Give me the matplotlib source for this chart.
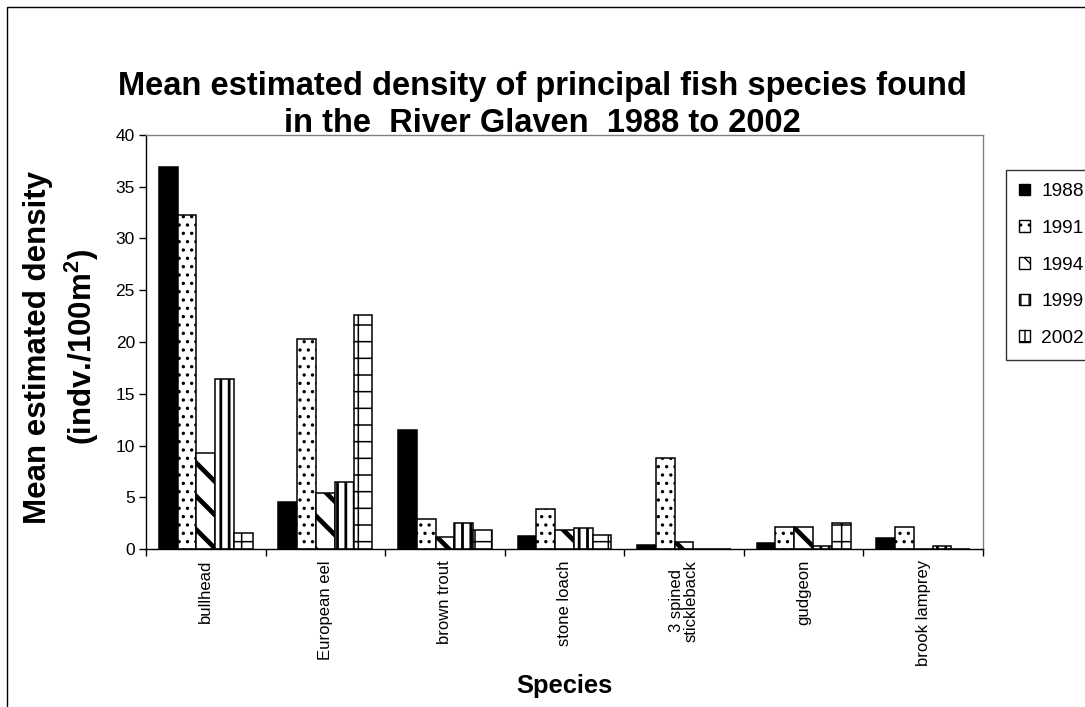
import matplotlib
matplotlib.use("Agg")
import matplotlib.pyplot as plt
from matplotlib.patches import Patch, Rectangle
import numpy as np

plt.rcParams['font.family'] = ['Liberation Sans', 'DejaVu Sans']

species = ["bullhead", "European eel", "brown trout", "stone loach",
           "3 spined\nstickleback", "gudgeon", "brook lamprey"]
years = ["1988", "1991", "1994", "1999", "2002"]

d1988 = [36.9, 4.5, 11.5, 1.3, 0.35, 0.6, 1.1]
d1991 = [32.3, 20.3, 2.9, 3.9, 8.8, 2.1, 2.1]
d1994 = [9.3, 5.4, 1.2, 1.8, 0.7, 2.1, 0.0]
d1999 = [16.4, 6.5, 2.5, 2.0, 0.0, 0.3, 0.3]
d2002 = [1.5, 22.6, 1.8, 1.4, 0.0, 2.5, 0.0]
series = [d1988, d1991, d1994, d1999, d2002]

title_lines = ["Mean estimated density of principal fish species found",
               "in the  River Glaven  1988 to 2002"]

# fill style of each year: face colour, hatch pattern, hatch line width
faces = ['black', 'white', 'white', 'white', 'white']
hatches = [None, '..', '\\', '||', '+']
hatch_lw = [1.0, 1.2, 3.4, 2.0, 1.1]

W, H = 1085, 707
fig = plt.figure(figsize=(W / 100, H / 100), dpi=100)
ax = fig.add_axes([146 / W, 1 - 549 / H, (983 - 146) / W, (549 - 135) / H])

x = np.arange(len(species))
bw = 0.157
handles = []
for i, (vals, fc, hp, hlw, yr) in enumerate(zip(series, faces, hatches, hatch_lw, years)):
    with plt.rc_context({'hatch.linewidth': hlw, 'hatch.color': 'black'}):
        bars = ax.bar(x + (i - 2) * bw, vals, width=bw, color=fc, edgecolor='black',
                      linewidth=1.1, hatch=hp, zorder=2)
        for b in bars:
            if hasattr(b, 'set_hatch_linewidth'):
                b.set_hatch_linewidth(hlw)
        h = Patch(facecolor=fc, edgecolor='black', hatch=hp, linewidth=1.0, label=yr)
        if hasattr(h, 'set_hatch_linewidth'):
            h.set_hatch_linewidth(hlw)
    handles.append(h)

ax.set_xlim(-0.5, len(species) - 0.5)
ax.set_ylim(0, 40)
ax.set_yticks(np.arange(0, 41, 5))
ax.tick_params(axis='y', direction='out', length=5, width=1, labelsize=12.5, pad=3)

ax.set_xticks(np.arange(-0.5, len(species), 1.0))
ax.set_xticklabels([])
ax.set_xticks(x, minor=True)
ax.set_xticklabels(species, minor=True, rotation=90, va='top', ha='center',
                   fontsize=12, linespacing=1.0)
ax.tick_params(axis='x', which='major', direction='out', length=5, width=1)
ax.tick_params(axis='x', which='minor', length=0, pad=8)

for side in ['left', 'bottom']:
    ax.spines[side].set_color('black')
    ax.spines[side].set_linewidth(1.0)
for side in ['top', 'right']:
    ax.spines[side].set_color('#808080')
    ax.spines[side].set_linewidth(1.0)

# two-line title, each line placed on its own baseline
for line, base in zip(title_lines, [95, 132]):
    fig.text(0.5, 1 - base / H, line, ha='center', va='baseline',
             fontsize=23.5, fontweight='bold')

fig.text(62 / W, 1 - 347 / H,
         "Mean estimated density\n(indv./100m$^\\mathregular{2}$)",
         ha='center', va='center', rotation=90, fontsize=22.5, fontweight='bold',
         linespacing=1.3, multialignment='center')

fig.text(564.5 / W, 1 - 686 / H, "Species", ha='center', va='center',
         fontsize=18.4, fontweight='bold')

leg = fig.legend(handles=handles, loc='upper left',
                 bbox_to_anchor=(1006 / W, 1 - 170 / H), bbox_transform=fig.transFigure,
                 fontsize=13.8, frameon=True, fancybox=False, shadow=False,
                 handlelength=0.55, handleheight=0.55, handletextpad=0.6,
                 labelspacing=1.02, borderpad=0.7, borderaxespad=0)
leg.get_frame().set_edgecolor('black')
leg.get_frame().set_linewidth(1.0)

# outer chart border
fig.patches.append(Rectangle((7 / W, -0.1), 1.2, 1.1 - 7 / H, transform=fig.transFigure,
                             fill=False, edgecolor='black', linewidth=1.0))

fig.savefig("out.png", dpi=100)
